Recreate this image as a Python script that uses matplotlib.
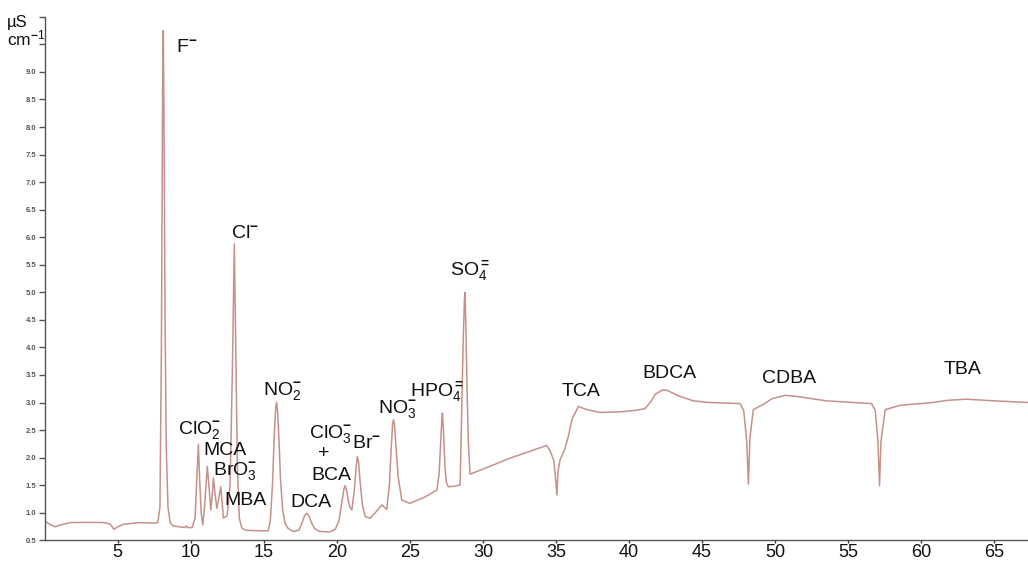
import matplotlib
matplotlib.use("Agg")
import matplotlib.pyplot as plt

plt.rcParams['font.family'] = ['Liberation Sans', 'DejaVu Sans']
plt.rcParams['mathtext.fontset'] = 'custom'
plt.rcParams['mathtext.rm'] = 'Liberation Sans'
plt.rcParams['mathtext.it'] = 'Liberation Sans:italic'
plt.rcParams['mathtext.bf'] = 'Liberation Sans:bold'

# ---- data: retention time (min) and conductivity (uS/cm)
time_min = [
    0.0, 0.3, 0.7, 1.0, 1.75, 3.1, 4.1, 4.5, 4.75, 5.0, 5.4, 6.5, 7.5, 7.75,
    7.9, 8.0, 8.08, 8.13, 8.18, 8.25, 8.33, 8.45, 8.6, 8.8,
    9.6, 9.7, 9.8, 10.1,
    10.3, 10.42, 10.53, 10.62, 10.72, 10.83,
    10.95, 11.05, 11.14, 11.25, 11.38,
    11.47, 11.56, 11.67, 11.79,
    11.92, 12.06, 12.15, 12.24,
    12.5, 12.7, 12.85, 12.99, 13.1, 13.2, 13.33, 13.5, 13.8,
    15.0, 15.3,
    15.45, 15.6, 15.72, 15.82, 15.88, 15.95, 16.05, 16.15, 16.3, 16.45, 16.65, 17.0,
    17.4, 17.6, 17.8, 17.95, 18.1, 18.3, 18.5, 18.8, 19.5,
    19.9, 20.15, 20.35, 20.5, 20.57, 20.68, 20.8, 20.9, 21.03,
    21.2, 21.33, 21.41, 21.5, 21.6, 21.75, 21.94, 22.28, 22.7, 23.08, 23.42,
    23.6, 23.72, 23.82, 23.88, 23.95, 24.05, 24.2, 24.45, 25.0, 26.0, 26.85,
    27.0, 27.12, 27.2, 27.23, 27.3, 27.4, 27.5, 27.64, 28.0, 28.44,
    28.55, 28.65, 28.74, 28.78, 28.84, 28.92, 29.0, 29.12, 29.8, 31.86, 34.37,
    34.6, 34.85, 34.98, 35.06, 35.14, 35.28, 35.6, 35.85, 36.1, 36.54,
    37.0, 38.0, 39.4, 40.5, 41.1, 41.5, 41.79, 42.31, 42.6, 43.4, 44.4, 45.5, 47.6,
    47.85, 48.05, 48.17, 48.27, 48.5, 49.2, 49.8, 50.69, 51.5, 53.5, 56.6,
    56.85, 57.03, 57.14, 57.24, 57.53, 58.56, 60.8, 61.8, 63.1, 65.0, 67.3,
]
conductivity = [
    0.85, 0.80, 0.745, 0.77, 0.82, 0.825, 0.82, 0.79, 0.70, 0.74, 0.79, 0.82, 0.81, 0.82,
    1.1, 4.0, 8.6, 9.75, 8.0, 4.5, 2.2, 1.1, 0.82, 0.76,
    0.73, 0.76, 0.73, 0.73,
    0.9, 1.6, 2.24, 1.6, 1.0, 0.78,
    1.1, 1.5, 1.84, 1.5, 1.05,
    1.3, 1.63, 1.35, 1.08,
    1.25, 1.47, 1.2, 0.9,
    0.95, 1.5, 3.5, 5.88, 3.8, 1.8, 0.9, 0.72, 0.68,
    0.67, 0.67,
    0.85, 1.5, 2.4, 2.9, 3.0, 2.85, 2.3, 1.6, 1.05, 0.82, 0.72, 0.66,
    0.68, 0.8, 0.95, 0.99, 0.94, 0.8, 0.71, 0.66, 0.65,
    0.70, 0.85, 1.2, 1.44, 1.49, 1.4, 1.2, 1.1, 1.05,
    1.4, 1.85, 2.02, 1.9, 1.55, 1.15, 0.93, 0.90, 1.02, 1.14, 1.06,
    1.5, 2.15, 2.6, 2.69, 2.6, 2.2, 1.65, 1.23, 1.17, 1.28, 1.41,
    1.7, 2.35, 2.75, 2.81, 2.5, 1.85, 1.55, 1.47, 1.48, 1.5,
    2.9, 4.1, 4.9, 5.0, 4.3, 3.2, 2.3, 1.7, 1.77, 1.99, 2.22,
    2.12, 1.95, 1.6, 1.32, 1.75, 1.96, 2.15, 2.39, 2.7, 2.93,
    2.88, 2.82, 2.83, 2.86, 2.89, 3.02, 3.15, 3.23, 3.22, 3.12, 3.03, 3.0, 2.98,
    2.85, 2.3, 1.52, 2.35, 2.87, 2.97, 3.07, 3.13, 3.11, 3.03, 2.98,
    2.85, 2.3, 1.49, 2.3, 2.87, 2.95, 3.0, 3.04, 3.06, 3.03, 3.0,
]

x_ticks = [5, 10, 15, 20, 25, 30, 35, 40, 45, 50, 55, 60, 65]
y_ticks = [0.5, 1.0, 1.5, 2.0, 2.5, 3.0, 3.5, 4.0, 4.5, 5.0, 5.5, 6.0, 6.5, 7.0,
           7.5, 8.0, 8.5, 9.0, 9.5, 10.0]
y_tick_labels = ['0.5', '1.0', '1.5', '2.0', '2.5', '3.0', '3.5', '4.0', '4.5', '5.0',
                 '5.5', '6.0', '6.5', '7.0', '7.5', '8.0', '8.5', '9.0', '', '']

peak_labels = [r'F$^{\mathbf{-}}$', r'Cl$^{\mathbf{-}}$', r'ClO$_2^{\mathbf{-}}$', 'MCA',
               r'BrO$_3^{\mathbf{-}}$', 'MBA', r'NO$_2^{\mathbf{-}}$', 'DCA',
               r'ClO$_3^{\mathbf{-}}$', 'BCA', r'Br$^{\mathbf{-}}$', r'NO$_3^{\mathbf{-}}$',
               r'HPO$_4^{\mathbf{=}}$', r'SO$_4^{\mathbf{=}}$', 'TCA', 'BDCA', 'CDBA', 'TBA']
# label anchor (left, baseline) in data coordinates
label_x = [9.0, 12.77, 9.16, 10.87, 11.55, 12.29, 14.98, 16.8, 18.12, 18.29, 21.03,
           22.85, 25.02, 27.75, 35.4, 40.88, 49.09, 61.52]
label_y = [9.36, 5.98, 2.42, 2.04, 1.68, 1.14, 3.13, 1.11, 2.36, 1.6, 2.18,
           2.81, 3.12, 5.31, 3.12, 3.45, 3.36, 3.51]

W, H = 1028, 563
fig = plt.figure(figsize=(W / 100, H / 100), dpi=100)
left_px, right_px, bottom_px, top_px = 44.5, 1028, 540.25, 16.8
ax = fig.add_axes([left_px / W, 1 - bottom_px / H, (right_px - left_px) / W,
                   (bottom_px - top_px) / H])

ax.plot(time_min, conductivity, color='#c4928a', lw=1.1, solid_joinstyle='round')

ax.set_xlim(0, 67.3)
ax.set_ylim(0.5, 10.0)
ax.set_xticks(x_ticks)
ax.set_xticklabels([str(v) for v in x_ticks], fontsize=13)
ax.set_yticks(y_ticks)
ax.set_yticklabels(y_tick_labels, fontsize=5.5, color='#444444', fontweight='bold')
ax.tick_params(axis='x', length=2.5, width=1, pad=0.5, colors='#333333', labelcolor='#111111')
ax.tick_params(axis='y', length=4, width=1, pad=2, colors='#555555')
for s in ['top', 'right']:
    ax.spines[s].set_visible(False)
for s in ['left', 'bottom']:
    ax.spines[s].set_color('#555555')
    ax.spines[s].set_linewidth(1.0)

for lab, lx, ly in zip(peak_labels, label_x, label_y):
    ax.text(lx, ly, lab, fontsize=14, ha='left', va='baseline', color='#111111')
ax.text(19.08, 2.08, '+', fontsize=14, ha='center', va='center', color='#111111')

fig.text(7 / W, 1 - 27 / H, 'µS', fontsize=12, ha='left', va='baseline', color='#111111')
fig.text(7 / W, 1 - 45 / H, r'cm$^{\mathbf{-}1}$', fontsize=12.5, ha='left', va='baseline',
         color='#111111')

fig.savefig('out.png', dpi=100, facecolor='white')
